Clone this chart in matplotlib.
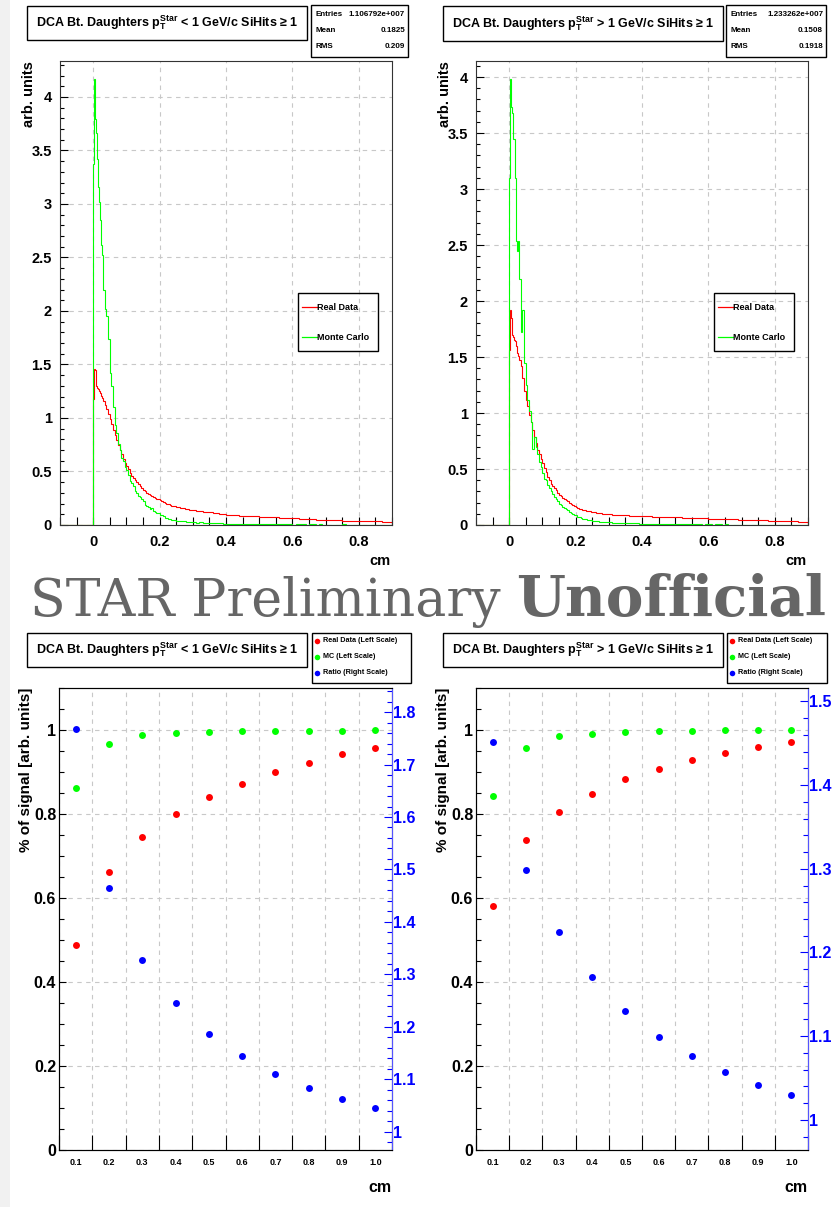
import numpy as np
import matplotlib
matplotlib.use('Agg')
import matplotlib.pyplot as plt
from matplotlib.patches import Rectangle
from matplotlib.lines import Line2D
from matplotlib.ticker import MultipleLocator, FormatStrFormatter

plt.rcParams['font.family'] = ['Liberation Sans', 'DejaVu Sans']
plt.rcParams['font.weight'] = 'bold'
plt.rcParams['axes.labelweight'] = 'bold'
plt.rcParams['mathtext.fontset'] = 'custom'
plt.rcParams['mathtext.rm'] = 'Liberation Sans:bold'
plt.rcParams['mathtext.it'] = 'Liberation Sans:bold'
plt.rcParams['mathtext.bf'] = 'Liberation Sans:bold'

# ---- histogram binning (cm): empty bin below 0, then fine / medium / coarse bins
edges = np.concatenate([[-0.1],
                        np.linspace(0.0, 0.03, 11)[:-1],
                        np.linspace(0.03, 0.3, 55)[:-1],
                        np.linspace(0.3, 0.9, 61)])

# pT < 1 GeV/c
lo_real_hist = [0.0,
    1.18, 1.46, 1.45, 1.30, 1.28, 1.27, 1.25, 1.23, 1.21, 1.19,
    1.16, 1.12, 1.08, 1.04, 0.99, 0.94, 0.89, 0.84, 0.79, 0.75,
    0.70, 0.66, 0.62, 0.58, 0.55, 0.52, 0.49, 0.46, 0.44, 0.42,
    0.40, 0.38, 0.36, 0.345, 0.33, 0.315, 0.30, 0.29, 0.28, 0.27,
    0.26, 0.255, 0.245, 0.24, 0.23, 0.222, 0.215, 0.205, 0.198, 0.192,
    0.186, 0.182, 0.178, 0.174, 0.170, 0.166, 0.162, 0.159, 0.156, 0.153,
    0.150, 0.147, 0.144, 0.141,
    0.138, 0.133, 0.129, 0.125, 0.121, 0.117, 0.113, 0.108, 0.104, 0.100,
    0.095, 0.093, 0.091, 0.089, 0.087, 0.086, 0.085, 0.083, 0.081, 0.080,
    0.078, 0.077, 0.075, 0.074, 0.072, 0.071, 0.069, 0.067, 0.065, 0.063,
    0.062, 0.061, 0.059, 0.058, 0.056, 0.055, 0.053, 0.051, 0.050, 0.048,
    0.047, 0.046, 0.045, 0.044, 0.043, 0.042, 0.041, 0.040, 0.039, 0.038,
    0.037, 0.036, 0.036, 0.035, 0.034, 0.033, 0.033, 0.032, 0.031, 0.030]
lo_mc_hist = [0.0,
    3.37, 4.17, 3.79, 3.66, 3.42, 3.16, 3.02, 2.85, 2.62, 2.52,
    2.20, 2.02, 1.95, 1.74, 1.42, 1.30, 1.10, 0.93, 0.86, 0.76,
    0.70, 0.63, 0.60, 0.54, 0.51, 0.47, 0.41, 0.39, 0.36, 0.32,
    0.30, 0.27, 0.26, 0.24, 0.22, 0.19, 0.18, 0.17, 0.15, 0.155,
    0.13, 0.12, 0.11, 0.11, 0.095, 0.09, 0.08, 0.07, 0.065, 0.06,
    0.055, 0.05, 0.048, 0.045, 0.042, 0.04, 0.038, 0.036, 0.035, 0.033,
    0.031, 0.03, 0.028, 0.027,
    0.025, 0.021, 0.024, 0.019, 0.020, 0.017, 0.018, 0.015, 0.016, 0.013,
    0.014, 0.011, 0.013, 0.012, 0.009, 0.011, 0.010, 0.008, 0.010, 0.009,
    0.007, 0.009, 0.008, 0.006, 0.008, 0.007, 0.005, 0.007, 0.006, 0.006,
    0.004, 0.006, 0.006, 0.005, 0.004, 0.006, 0.005, 0.004, 0.005, 0.004,
    0.004, 0.003, 0.004, 0.004, 0.003, 0.005, 0.003, 0.003, 0.004, 0.003,
    0.003, 0.002, 0.003, 0.004, 0.003, 0.002, 0.003, 0.003, 0.002, 0.003]

# pT > 1 GeV/c
hi_real_hist = [0.0,
    1.56, 1.92, 1.85, 1.70, 1.68, 1.65, 1.64, 1.60, 1.54, 1.51,
    1.47, 1.42, 1.31, 1.20, 1.12, 1.06, 0.98, 0.92, 0.85, 0.79,
    0.73, 0.67, 0.63, 0.59, 0.55, 0.51, 0.47, 0.43, 0.40, 0.37,
    0.35, 0.33, 0.31, 0.29, 0.27, 0.255, 0.24, 0.23, 0.22, 0.21,
    0.195, 0.185, 0.175, 0.167, 0.160, 0.153, 0.147, 0.142, 0.137, 0.133,
    0.129, 0.125, 0.122, 0.119, 0.116, 0.113, 0.110, 0.108, 0.106, 0.104,
    0.102, 0.100, 0.098, 0.097,
    0.095, 0.093, 0.091, 0.089, 0.087, 0.085, 0.083, 0.081, 0.080, 0.079,
    0.078, 0.077, 0.076, 0.075, 0.074, 0.074, 0.073, 0.072, 0.071, 0.070,
    0.069, 0.068, 0.066, 0.065, 0.064, 0.063, 0.062, 0.061, 0.060, 0.059,
    0.058, 0.057, 0.056, 0.055, 0.054, 0.053, 0.052, 0.051, 0.050, 0.049,
    0.048, 0.047, 0.046, 0.045, 0.044, 0.043, 0.042, 0.041, 0.040, 0.039,
    0.038, 0.037, 0.036, 0.035, 0.034, 0.033, 0.032, 0.031, 0.030, 0.030]
hi_mc_hist = [0.0,
    3.10, 3.98, 3.73, 3.68, 3.45, 3.45, 3.10, 2.54, 2.45, 2.54,
    2.20, 1.72, 1.92, 1.45, 1.25, 1.12, 1.02, 0.92, 0.68, 0.79,
    0.70, 0.63, 0.56, 0.52, 0.46, 0.41, 0.40, 0.36, 0.33, 0.30,
    0.28, 0.25, 0.23, 0.21, 0.19, 0.18, 0.16, 0.15, 0.14, 0.13,
    0.12, 0.11, 0.10, 0.09, 0.085, 0.075, 0.07, 0.062, 0.058, 0.055,
    0.05, 0.048, 0.045, 0.042, 0.04, 0.037, 0.035, 0.032, 0.030, 0.029,
    0.027, 0.026, 0.025, 0.024,
    0.023, 0.020, 0.022, 0.018, 0.019, 0.016, 0.017, 0.014, 0.015, 0.012,
    0.013, 0.010, 0.012, 0.011, 0.008, 0.010, 0.009, 0.007, 0.009, 0.008,
    0.006, 0.008, 0.007, 0.006, 0.007, 0.005, 0.006, 0.006, 0.004, 0.005,
    0.005, 0.004, 0.005, 0.005, 0.003, 0.005, 0.004, 0.004, 0.003, 0.004,
    0.004, 0.003, 0.004, 0.003, 0.003, 0.004, 0.002, 0.003, 0.003, 0.002,
    0.003, 0.003, 0.002, 0.003, 0.003, 0.002, 0.003, 0.002, 0.003, 0.003]

# ---- fraction of signal kept by DCA cut
cuts = ['0.1', '0.2', '0.3', '0.4', '0.5', '0.6', '0.7', '0.8', '0.9', '1.0']
lo_real_frac = [0.488, 0.663, 0.746, 0.799, 0.840, 0.872, 0.900, 0.922, 0.942, 0.958]
lo_mc_frac = [0.861, 0.967, 0.987, 0.993, 0.995, 0.997, 0.998, 0.998, 0.998, 0.999]
lo_ratio = [1.767, 1.464, 1.328, 1.245, 1.186, 1.144, 1.110, 1.083, 1.062, 1.045]
hi_real_frac = [0.581, 0.737, 0.805, 0.848, 0.883, 0.908, 0.928, 0.945, 0.960, 0.971]
hi_mc_frac = [0.843, 0.957, 0.985, 0.991, 0.995, 0.998, 0.998, 0.999, 0.999, 0.999]
hi_ratio = [1.451, 1.299, 1.2245, 1.171, 1.130, 1.099, 1.076, 1.057, 1.042, 1.030]

lo_stats = ['1.106792e+007', '0.1825', '0.209']
hi_stats = ['1.233262e+007', '0.1508', '0.1918']

W, H = 838, 1207
fig = plt.figure(figsize=(W / 100, H / 100), dpi=100)
GREEN = '#00ff00'
GRID = dict(color='#c8c8c8', linestyle=(0, (4, 4)), linewidth=0.8)


def fx(px):
    return px / W


def fy(py):
    return 1 - py / H


def rect(x0, y0, x1, y1):
    return [fx(x0), fy(y1), (x1 - x0) / W, (y1 - y0) / H]


def box(x0, y0, x1, y1, lw=1.0):
    fig.add_artist(Rectangle((fx(x0), fy(y1)), (x1 - x0) / W, (y1 - y0) / H,
                             transform=fig.transFigure, fill=False, ec='black', lw=lw))


def title_box(x0, y0, x1, y1, sign):
    box(x0, y0, x1, y1)
    fig.text(fx((x0 + x1) / 2), fy((y0 + y1) / 2),
             r'DCA Bt. Daughters $\mathrm{p}_\mathrm{T}^\mathrm{Star}$ ' + sign + ' 1 GeV/c SiHits \u2265 1',
             ha='center', va='center', fontsize=9)


def stats_box(x0, x1, stats):
    box(x0, 5, x1, 57)
    for name, val, y in zip(['Entries', 'Mean', 'RMS'], stats, [15, 31, 47]):
        fig.text(fx(x0 + 4), fy(y), name, fontsize=5.8, va='center')
        fig.text(fx(x1 - 3), fy(y), val, fontsize=5.8, va='center', ha='right')


# faint background strip on the left edge
fig.add_artist(Rectangle((0, 0), 10 / W, 1, transform=fig.transFigure, color='#f1f1f1', lw=0))


def top_panel(x0, x1, real, mc, ymax, sign, stats, tbox, sbox, lbox):
    ax = fig.add_axes(rect(x0, 61, x1, 525))
    ax.stairs(real, edges, baseline=0, color='red', lw=0.8)
    ax.stairs(mc, edges, baseline=0, color=GREEN, lw=0.8)
    ax.set_xlim(-0.1, 0.9)
    ax.set_ylim(0, ymax)
    ax.xaxis.set_major_locator(MultipleLocator(0.2))
    ax.xaxis.set_minor_locator(MultipleLocator(0.05))
    ax.yaxis.set_major_locator(MultipleLocator(0.5))
    ax.yaxis.set_minor_locator(MultipleLocator(0.1))
    ax.xaxis.set_major_formatter(FormatStrFormatter('%g'))
    ax.yaxis.set_major_formatter(FormatStrFormatter('%g'))
    ax.tick_params(which='both', direction='in', top=False, right=False, labelsize=10.5, width=0.8)
    ax.tick_params(axis='x', which='both', length=6, pad=7)
    ax.tick_params(axis='y', which='major', length=6, pad=6)
    ax.tick_params(axis='y', which='minor', length=3)
    ax.grid(True, which='major', **GRID)
    ax.set_axisbelow(True)
    for s in ax.spines.values():
        s.set_color('#333333')
    ax.set_ylabel('arb. units', loc='top', fontsize=10.5)
    ax.yaxis.set_label_coords(-0.072, 1.0)
    ax.set_xlabel('cm', loc='right', fontsize=10.5)
    ax.xaxis.set_label_coords(0.995, -0.062)
    title_box(*tbox, sign)
    stats_box(*sbox, stats)
    lx0, lx1 = lbox
    box(lx0, 293, lx1, 351)
    for col, lab, y in [('red', 'Real Data', 307), (GREEN, 'Monte Carlo', 337)]:
        fig.add_artist(Line2D([fx(lx0 + 4), fx(lx0 + 19)], [fy(y), fy(y)], color=col, lw=0.9,
                              transform=fig.transFigure))
        fig.text(fx(lx0 + 19), fy(y), lab, fontsize=6.5, va='center')


def bottom_panel(x0, x1, real, mc, ratio, rlim, sign, tbox, lbox):
    ax = fig.add_axes(rect(x0, 688, x1, 1150))
    pos = np.arange(len(cuts)) + 0.5
    ax.plot(pos, real, 'o', color='red', ms=5, mec='none')
    ax.plot(pos, mc, 'o', color=GREEN, ms=5, mec='none')
    ax.set_xlim(0, len(cuts))
    ax.set_ylim(0, 1.1)
    ax.set_xticks(np.arange(len(cuts) + 1))
    ax.set_xticklabels([])
    ax.set_xticks(pos, minor=True)
    ax.set_xticklabels(cuts, minor=True)
    ax.yaxis.set_major_locator(MultipleLocator(0.2))
    ax.yaxis.set_minor_locator(MultipleLocator(0.05))
    ax.yaxis.set_major_formatter(FormatStrFormatter('%g'))
    ax.tick_params(which='both', direction='in', top=False, right=False, width=0.8)
    ax.tick_params(axis='x', which='major', length=11)
    ax.tick_params(axis='x', which='minor', length=0, labelsize=6.5, pad=6)
    ax.tick_params(axis='y', which='major', length=5, labelsize=11.5, pad=2)
    ax.tick_params(axis='y', which='minor', length=3.5)
    ax.grid(True, which='major', **GRID)
    ax.set_axisbelow(True)
    for s in ax.spines.values():
        s.set_color('#333333')
    ax.set_ylabel('% of signal [arb. units]', loc='top', fontsize=11)
    ax.yaxis.set_label_coords(-0.078, 1.0)
    ax.set_xlabel('cm', loc='right', fontsize=11.5)
    ax.xaxis.set_label_coords(0.998, -0.064)

    ax2 = ax.twinx()
    ax2.plot(pos, ratio, 'o', color='blue', ms=5, mec='none')
    ax2.set_ylim(*rlim)
    ax2.yaxis.set_major_locator(MultipleLocator(0.1))
    ax2.yaxis.set_minor_locator(MultipleLocator(0.02))
    ax2.yaxis.set_major_formatter(FormatStrFormatter('%g'))
    ax2.tick_params(axis='y', which='both', direction='in', colors='blue', width=0.8, labelsize=11.5, pad=1)
    ax2.tick_params(axis='y', which='major', length=6)
    ax2.tick_params(axis='y', which='minor', length=3.5)
    ax2.spines['right'].set_color('#5555ff')
    for lab in ax2.get_yticklabels():
        lab.set_color('blue')

    title_box(*tbox, sign)
    lx0, lx1 = lbox
    box(lx0, 633, lx1, 683)
    for col, lab, y in [('red', 'Real Data (Left Scale)', 641), (GREEN, 'MC (Left Scale)', 657),
                        ('blue', 'Ratio (Right Scale)', 673)]:
        fig.add_artist(Line2D([fx(lx0 + 5)], [fy(y)], marker='o', ms=4, color=col, mec='none',
                              transform=fig.transFigure))
        fig.text(fx(lx0 + 11), fy(y), lab, fontsize=5.2, va='center')


top_panel(60, 392, lo_real_hist, lo_mc_hist, 4.336, '<', lo_stats,
          (27, 6, 307, 40), (311, 408), (298, 378))
top_panel(476, 808, hi_real_hist, hi_mc_hist, 4.143, '>', hi_stats,
          (443, 6, 723, 41), (726, 826), (714, 794))
bottom_panel(59, 392, lo_real_frac, lo_mc_frac, lo_ratio, (0.965, 1.846), '<',
             (27, 633, 307, 667), (312, 411))
bottom_panel(476, 808, hi_real_frac, hi_mc_frac, hi_ratio, (0.964, 1.516), '>',
             (443, 633, 723, 667), (727, 827))

fig.text(fx(30), fy(616), 'STAR Preliminary', family='DejaVu Serif',
         fontsize=37.5, weight='normal', color='#666666', va='baseline')
fig.text(fx(826), fy(616), 'Unofficial', family='DejaVu Serif', fontsize=40.5,
         weight='bold', color='#666666', va='baseline', ha='right')

fig.savefig('out.png', dpi=100)
